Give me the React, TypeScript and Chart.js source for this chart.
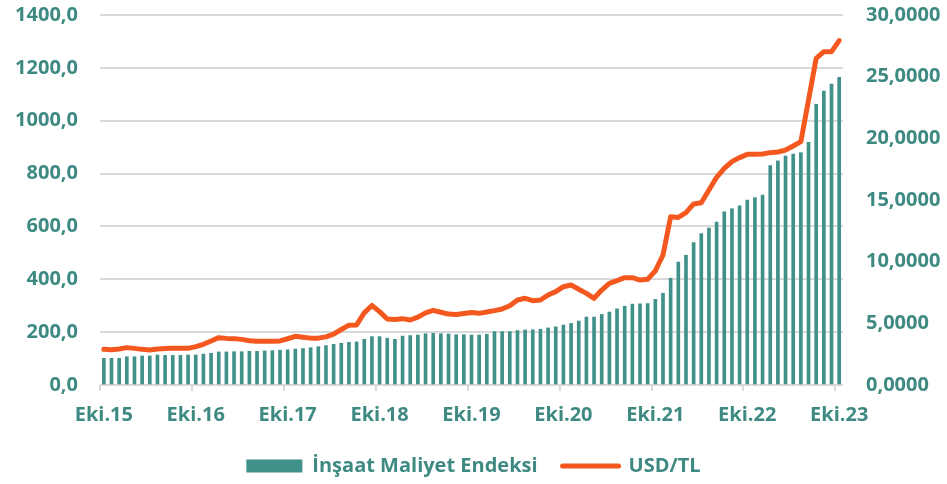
import React, { useEffect, useRef } from "react";
import { Chart, registerables } from "chart.js";

Chart.register(...registerables);

// Categories: monthly, Eki.15 .. Eki.23
const MONTHS = ["Oca", "Şub", "Mar", "Nis", "May", "Haz", "Tem", "Ağu", "Eyl", "Eki", "Kas", "Ara"];
const START_YEAR = 2015;
const START_MONTH_INDEX = 9; // Ekim
const MONTH_COUNT = 97;
const CATEGORIES: string[] = Array.from({ length: MONTH_COUNT }, (_, i) => {
  const k = START_MONTH_INDEX + i;
  const y = START_YEAR + Math.floor(k / 12);
  return `${MONTHS[k % 12]}.${String(y % 100).padStart(2, "0")}`;
});

// İnşaat Maliyet Endeksi (left axis)
const INSAAT_MALIYET: number[] = [
  101, 101, 101, 107, 107, 110, 110, 113.5, 112, 112, 112, 113.5,
  113.5, 117, 120, 125, 125, 126, 126, 127.5, 127.5, 129, 130, 131.5,
  133, 136, 138, 141, 145, 149, 154, 158, 161.5, 163, 173, 183,
  183, 177, 173, 185, 187, 189, 194, 195.5, 194, 193, 190.5, 190.5,
  189, 189, 192, 202, 202, 202, 206, 208, 209, 211, 216, 220,
  227, 233, 242, 257, 257, 267, 276, 288, 298, 306, 307, 308,
  324, 347, 404, 465, 491, 539, 573, 594, 616, 655, 667, 678,
  700, 709, 719, 830, 848, 866, 874, 879, 918, 1062, 1112, 1139, 1164,
];

// USD/TL (right axis)
const USD_TL: number[] = [
  2.89, 2.86, 2.92, 3.03, 2.97, 2.89, 2.84, 2.92, 2.95, 2.97, 2.97, 2.97,
  3.11, 3.30, 3.57, 3.84, 3.78, 3.76, 3.70, 3.59, 3.54, 3.54, 3.54, 3.57,
  3.75, 3.95, 3.88, 3.80, 3.80, 3.90, 4.12, 4.50, 4.85, 4.87, 5.85, 6.45,
  5.95, 5.35, 5.32, 5.38, 5.27, 5.50, 5.85, 6.05, 5.90, 5.75, 5.72, 5.80,
  5.87, 5.81, 5.92, 6.03, 6.16, 6.43, 6.89, 7.03, 6.84, 6.89, 7.30, 7.57,
  7.97, 8.11, 7.76, 7.43, 7.03, 7.70, 8.24, 8.46, 8.70, 8.70, 8.51, 8.57,
  9.25, 10.54, 13.65, 13.59, 13.97, 14.68, 14.78, 15.81, 16.84, 17.57, 18.11, 18.44,
  18.70, 18.70, 18.73, 18.84, 18.89, 19.05, 19.38, 19.73, 23.11, 26.49, 27.03, 27.03, 27.92,
];

const LEFT_MIN = 0;
const LEFT_MAX = 1400;
const LEFT_STEP = 200;
const RIGHT_MIN = 0;
const RIGHT_MAX = 30;
const RIGHT_STEP = 5;

const TEAL = "#40918A";
const TEXT = "#3E8A82";
const ORANGE = "#F4581F";
const GRID = "#D9D9D9";
const FONT = { family: "'Open Sans', sans-serif", size: 20, weight: "bold" as const };

export default function App() {
  const ref = useRef<HTMLCanvasElement>(null);

  useEffect(() => {
    document.body.style.margin = "0";
    const canvas = ref.current;
    if (!canvas) return;
    const fixVertical = (w: number) => (s: any) => {
      s.width = w;
      s.paddingTop = 15;
      s.paddingBottom = 0;
    };
    const chart = new Chart(canvas, {
      type: "bar",
      data: {
        labels: CATEGORIES,
        datasets: [
          {
            type: "line",
            label: "USD/TL",
            data: USD_TL,
            yAxisID: "y1",
            borderColor: ORANGE,
            backgroundColor: ORANGE,
            borderWidth: 5,
            pointRadius: 0,
            tension: 0,
            borderJoinStyle: "round",
            borderCapStyle: "round",
            order: 0,
          } as any,
          {
            type: "bar",
            label: "İnşaat Maliyet Endeksi",
            data: INSAAT_MALIYET,
            yAxisID: "y",
            backgroundColor: TEAL,
            barThickness: 3,
            order: 1,
          } as any,
        ],
      },
      options: {
        animation: false,
        responsive: true,
        maintainAspectRatio: false,
        layout: { padding: { top: 0, left: 0, right: 0, bottom: 0 } },
        plugins: {
          tooltip: { enabled: false },
          legend: {
            position: "bottom",
            maxHeight: 53,
            labels: {
              font: FONT,
              color: TEXT,
              padding: 25,
              usePointStyle: true,
              pointStyleWidth: 56,
              boxHeight: 13,
              generateLabels: () => [
                {
                  text: "İnşaat Maliyet Endeksi",
                  fillStyle: TEAL,
                  strokeStyle: TEAL,
                  lineWidth: 0,
                  pointStyle: "rect",
                  datasetIndex: 1,
                  hidden: false,
                  fontColor: TEXT,
                } as any,
                {
                  text: "USD/TL",
                  fillStyle: ORANGE,
                  strokeStyle: ORANGE,
                  lineWidth: 5,
                  lineCap: "round",
                  pointStyle: "line",
                  datasetIndex: 0,
                  hidden: false,
                  fontColor: TEXT,
                } as any,
              ],
            },
          } as any,
        },
        scales: {
          x: {
            offset: true,
            grid: {
              offset: true,
              drawOnChartArea: false,
              drawTicks: true,
              tickLength: 6,
              lineWidth: 2,
              color: (ctx: any) =>
                typeof ctx.index === "number" && ctx.index % 12 === 0 ? GRID : "rgba(0,0,0,0)",
            },
            border: { display: false },
            ticks: {
              autoSkip: false,
              maxRotation: 0,
              minRotation: 0,
              padding: 12,
              font: FONT,
              color: TEXT,
              callback: (_v: any, i: number) =>
                CATEGORIES[i] && CATEGORIES[i].startsWith("Eki") ? CATEGORIES[i] : "",
            },
            afterFit: (s: any) => {
              s.height = 46;
              s.paddingTop = 0;
            },
          },
          y: {
            position: "left",
            min: LEFT_MIN,
            max: LEFT_MAX,
            ticks: {
              stepSize: LEFT_STEP,
              padding: 22,
              font: FONT,
              color: TEXT,
              callback: (v: any) => Number(v).toFixed(1).replace(".", ","),
            },
            grid: { color: GRID, lineWidth: 2, drawTicks: false },
            border: { display: false },
            afterFit: fixVertical(100),
          },
          y1: {
            position: "right",
            min: RIGHT_MIN,
            max: RIGHT_MAX,
            ticks: {
              stepSize: RIGHT_STEP,
              padding: 23,
              font: FONT,
              color: TEXT,
              callback: (v: any) => Number(v).toFixed(4).replace(".", ","),
            },
            grid: { drawOnChartArea: false, drawTicks: false },
            border: { display: false },
            afterFit: fixVertical(104),
          },
        },
      } as any,
    });
    return () => chart.destroy();
  }, []);

  return (
    <div style={{ width: 947, height: 484, position: "relative" }}>
      <canvas ref={ref} />
    </div>
  );
}
